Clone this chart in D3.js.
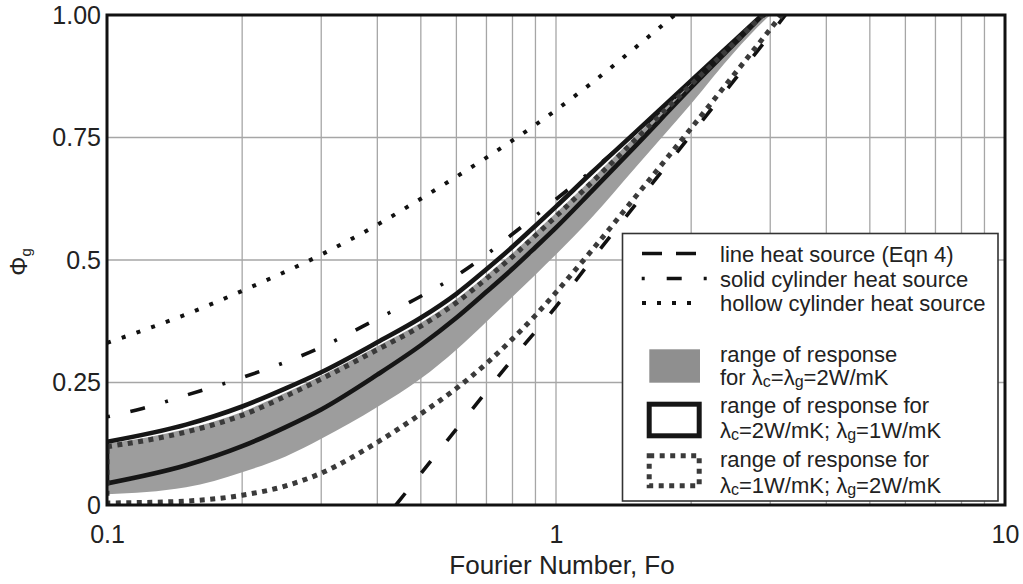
<!DOCTYPE html>
<html>
<head>
<meta charset="utf-8">
<script src="https://cdn.jsdelivr.net/npm/d3@7/dist/d3.min.js"></script>
<style>
  html, body { margin: 0; padding: 0; background: #fff; }
  svg { display: block; font-family: "Liberation Sans", Arial, sans-serif; }
</style>
</head>
<body>
<svg id="chart" width="1023" height="584"></svg>
<script>
// ---- data -------------------------------------------------------------
// Analytical solutions
const hollowFo  = [0.1, 0.12, 0.15, 0.2, 0.3, 0.4, 0.5, 0.6, 0.7, 0.8, 0.9, 1.0, 1.2, 1.5, 1.8, 2.0];
const hollowPhi = [0.331, 0.356, 0.389, 0.437, 0.511, 0.572, 0.625, 0.67, 0.709, 0.744, 0.776, 0.806, 0.861, 0.933, 0.993, 1.028];

const lineFo  = [0.44, 0.5, 0.6, 0.7, 0.8, 1.0, 1.2, 1.5, 2.0, 2.5, 3.0, 3.5];
const linePhi = [0, 0.064, 0.155, 0.232, 0.298, 0.405, 0.50, 0.612, 0.756, 0.868, 0.96, 1.04];

const solidFo  = [0.1, 0.12, 0.15, 0.2, 0.3, 0.4, 0.5, 0.6, 0.7, 0.8, 0.9, 1.0, 1.2, 1.5, 2.0, 2.5, 3.0, 3.5];
const solidPhi = [0.18, 0.197, 0.224, 0.26, 0.322, 0.38, 0.426, 0.468, 0.511, 0.553, 0.59, 0.624, 0.682, 0.758, 0.863, 0.946, 1.01, 1.06];

// Response ranges, sampled on a common Fourier-number grid
const rangeFo = [0.1, 0.15, 0.2, 0.25, 0.3, 0.4, 0.5, 0.6, 0.7, 0.8, 0.9, 1.0, 1.2, 1.5, 2.0, 2.5, 3.0, 3.5];
// λc = λg = 2 W/mK
const equalLow  = [0.022, 0.036, 0.067, 0.099, 0.135, 0.2, 0.258, 0.317, 0.374, 0.425, 0.47, 0.511, 0.586, 0.688, 0.819, 0.925, 1.0, 1.05];
const equalHigh = [0.125, 0.155, 0.19, 0.229, 0.264, 0.324, 0.372, 0.42, 0.469, 0.514, 0.557, 0.596, 0.665, 0.752, 0.862, 0.946, 1.015, 1.07];
// λc = 2 W/mK; λg = 1 W/mK
const groutLowLow  = [0.044, 0.081, 0.12, 0.159, 0.195, 0.266, 0.326, 0.382, 0.435, 0.482, 0.526, 0.566, 0.64, 0.732, 0.852, 0.942, 1.015, 1.07];
const groutLowHigh = [0.129, 0.164, 0.201, 0.238, 0.271, 0.332, 0.382, 0.431, 0.481, 0.527, 0.57, 0.609, 0.678, 0.76, 0.866, 0.948, 1.015, 1.07];
// λc = 1 W/mK; λg = 2 W/mK
const coreLowLow  = [0.004, 0.008, 0.02, 0.039, 0.065, 0.128, 0.186, 0.238, 0.289, 0.339, 0.387, 0.434, 0.519, 0.628, 0.769, 0.88, 0.971, 1.048];
const coreLowHigh = [0.119, 0.149, 0.183, 0.222, 0.257, 0.317, 0.365, 0.413, 0.462, 0.507, 0.55, 0.589, 0.658, 0.745, 0.858, 0.944, 1.015, 1.07];

// Axis ticks
const yTickValues = [0, 0.25, 0.5, 0.75, 1];
const yTickLabels = ["0", "0.25", "0.5", "0.75", "1.00"];
const xTickValues = [0.1, 1, 10];
const xTickLabels = ["0.1", "1", "10"];

// ---- layout ------------------------------------------------------------
const svg = d3.select("#chart");
const L = 107, R = 1005, T = 15, B = 505;
const x = d3.scaleLog().domain([0.1, 10]).range([L, R]);
const y = d3.scaleLinear().domain([0, 1]).range([B, T]);

svg.append("defs").append("clipPath").attr("id", "plotClip")
  .append("rect").attr("x", L).attr("y", T).attr("width", R - L).attr("height", B - T);

// grid
const gridX = x.ticks().filter(v => v > 0.1 + 1e-9 && v < 10 - 1e-9);
svg.append("g").selectAll("line").data(gridX).join("line")
  .attr("x1", d => x(d)).attr("x2", d => x(d)).attr("y1", T).attr("y2", B)
  .attr("stroke", "#a6a6a6").attr("stroke-width", 1.3);
svg.append("g").selectAll("line").data(yTickValues.filter(v => v > 0 && v < 1)).join("line")
  .attr("x1", L).attr("x2", R).attr("y1", d => y(d)).attr("y2", d => y(d))
  .attr("stroke", "#a6a6a6").attr("stroke-width", 1.3);

const plot = svg.append("g").attr("clip-path", "url(#plotClip)");

const zip = (fo, v) => fo.map((f, i) => [f, v[i]]);
const line = d3.line().x(d => x(d[0])).y(d => y(d[1])).curve(d3.curveMonotoneX);
const band = d3.area().x(d => x(d.fo)).y0(d => y(d.lo)).y1(d => y(d.hi)).curve(d3.curveMonotoneX);
const bandData = (lo, hi) => rangeFo.map((f, i) => ({ fo: f, lo: lo[i], hi: hi[i] }));

// gray range
plot.append("path").datum(bandData(equalLow, equalHigh))
  .attr("d", band).attr("fill", "#9d9d9d").attr("stroke", "none");

// analytical curves
plot.append("path").datum(zip(hollowFo, hollowPhi)).attr("d", line)
  .attr("fill", "none").attr("stroke", "#111").attr("stroke-width", 4)
  .attr("stroke-dasharray", "4,11.6");
plot.append("path").datum(zip(lineFo, linePhi)).attr("d", line)
  .attr("fill", "none").attr("stroke", "#111").attr("stroke-width", 3.6)
  .attr("stroke-dasharray", "15,26");
plot.append("path").datum(zip(solidFo, solidPhi)).attr("d", line)
  .attr("fill", "none").attr("stroke", "#111").attr("stroke-width", 3.6)
  .attr("stroke-dasharray", "15,21,3,21").attr("stroke-dashoffset", 36);

// outlined ranges
plot.append("path").datum(bandData(groutLowLow, groutLowHigh)).attr("d", band)
  .attr("fill", "none").attr("stroke", "#161616").attr("stroke-width", 4.6);
plot.append("path").datum(bandData(coreLowLow, coreLowHigh)).attr("d", band)
  .attr("fill", "none").attr("stroke", "#3a3a3a").attr("stroke-width", 5)
  .attr("stroke-dasharray", "5,5.5");

// frame
svg.append("rect").attr("x", L).attr("y", T).attr("width", R - L).attr("height", B - T)
  .attr("fill", "none").attr("stroke", "#111").attr("stroke-width", 3);

// axes
const yAxis = svg.append("g").attr("transform", `translate(${L},0)`)
  .call(d3.axisLeft(y).tickValues(yTickValues).tickSize(0).tickPadding(6)
    .tickFormat((d, i) => yTickLabels[i]));
const xAxis = svg.append("g").attr("transform", `translate(0,${B})`)
  .call(d3.axisBottom(x).tickValues(xTickValues).tickSize(0).tickPadding(20)
    .tickFormat((d, i) => xTickLabels[i]));
[yAxis, xAxis].forEach(a => {
  a.select(".domain").remove();
  a.selectAll("text").attr("font-size", 25).attr("fill", "#222")
    .attr("font-family", "'Liberation Sans', Arial, sans-serif");
});

svg.append("text").attr("x", 562).attr("y", 574).attr("text-anchor", "middle")
  .attr("font-size", 26).attr("fill", "#222").text("Fourier Number, Fo");

const yTitle = svg.append("text").attr("transform", "translate(27,262) rotate(-90)")
  .attr("text-anchor", "middle").attr("font-size", 24).attr("fill", "#222");
yTitle.append("tspan").text("Φ");
yTitle.append("tspan").attr("font-size", 15).attr("dy", 4).text("g");

// ---- legend -------------------------------------------------------------
const lg = svg.append("g");
lg.append("rect").attr("x", 622.5).attr("y", 233.5).attr("width", 375.5).attr("height", 267.5)
  .attr("fill", "#fff").attr("stroke", "#333").attr("stroke-width", 1.6);

const legendLine = (yy, dash, x1, x2) => lg.append("line")
  .attr("x1", x1).attr("x2", x2).attr("y1", yy).attr("y2", yy)
  .attr("stroke", "#111").attr("stroke-width", 3.6).attr("stroke-dasharray", dash);
legendLine(253.5, "20,14", 642, 697);
legendLine(278.5, "3,22,15,22,3", 641.7, 706.7);
lg.append("line").attr("x1", 642).attr("x2", 700).attr("y1", 303).attr("y2", 303)
  .attr("stroke", "#111").attr("stroke-width", 4).attr("stroke-dasharray", "4,11");

lg.append("rect").attr("x", 649.3).attr("y", 349.3).attr("width", 50.7).attr("height", 33.4)
  .attr("fill", "#8f8f8f");
lg.append("rect").attr("x", 649.2).attr("y", 404.2).attr("width", 50).attr("height", 31.6)
  .attr("fill", "none").attr("stroke", "#161616").attr("stroke-width", 5);
lg.append("rect").attr("x", 649.2).attr("y", 455.8).attr("width", 50).attr("height", 30)
  .attr("fill", "none").attr("stroke", "#3a3a3a").attr("stroke-width", 5)
  .attr("stroke-dasharray", "5,5.5");

// legend text: each row is a list of [text, isSubscript] parts
const legendRows = [
  [253.5, [["line heat source (Eqn 4)", false]]],
  [278.5, [["solid cylinder heat source", false]]],
  [303, [["hollow cylinder heat source", false]]],
  [353.5, [["range of response", false]]],
  [377, [["for λ", false], ["c", true], ["=λ", false], ["g", true], ["=2W/mK", false]]],
  [405, [["range of response for", false]]],
  [430, [["λ", false], ["c", true], ["=2W/mK; λ", false], ["g", true], ["=1W/mK", false]]],
  [458.5, [["range of response for", false]]],
  [485, [["λ", false], ["c", true], ["=1W/mK; λ", false], ["g", true], ["=2W/mK", false]]]
];
legendRows.forEach(([yy, parts]) => {
  const t = lg.append("text").attr("x", 720).attr("y", yy + 8)
    .attr("font-size", 22).attr("fill", "#222");
  let shifted = false;
  parts.forEach(([s, sub]) => {
    const sp = t.append("tspan").text(s);
    if (sub) { sp.attr("font-size", 16).attr("dy", shifted ? 0 : 2); shifted = true; }
    else if (shifted) { sp.attr("dy", -2); shifted = false; }
  });
});
</script>
</body>
</html>
